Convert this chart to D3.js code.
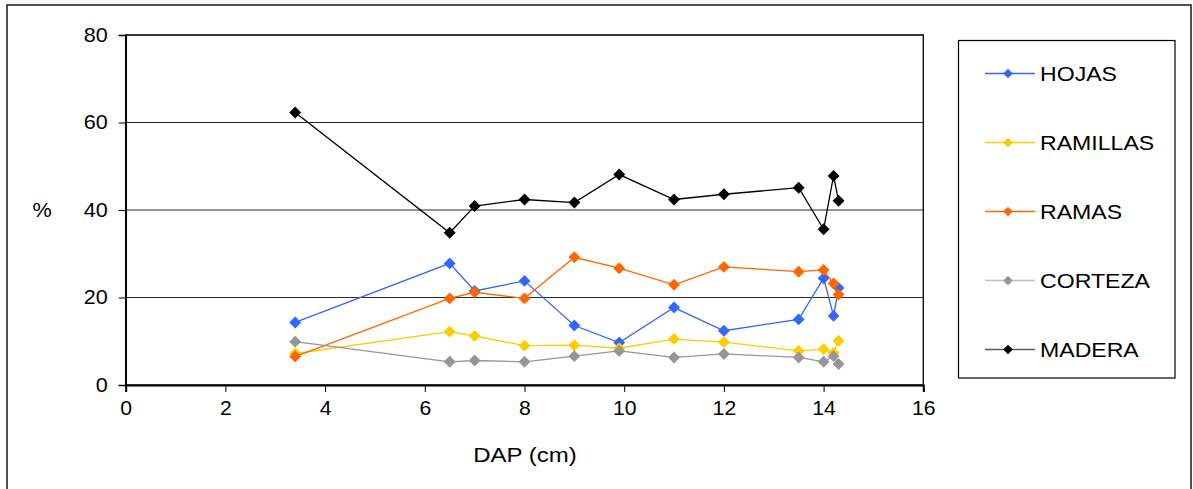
<!DOCTYPE html>
<html>
<head>
<meta charset="utf-8">
<script src="https://cdn.jsdelivr.net/npm/d3@7"></script>
<style>
  html, body { margin: 0; padding: 0; background: #fff; }
  svg { display: block; }
  text { font-family: "Liberation Sans", Arial, sans-serif; fill: #000; }
</style>
</head>
<body>
<script>
// ---- Data ----
const dap      = [3.4, 6.5, 7.0, 8.0, 9.0, 9.9, 11.0, 12.0, 13.5, 14.0, 14.2, 14.3];
const hojas    = [14.3, 27.8, 21.5, 23.8, 13.6, 9.7, 17.7, 12.4, 15.0, 24.4, 15.8, 22.2];
const ramillas = [7.2, 12.2, 11.2, 9.0, 9.1, 8.4, 10.5, 9.8, 7.8, 8.2, 7.4, 10.1];
const ramas    = [6.5, 19.8, 21.2, 19.8, 29.2, 26.7, 22.9, 27.0, 25.9, 26.3, 23.2, 20.7];
const corteza  = [9.9, 5.3, 5.6, 5.3, 6.6, 7.8, 6.3, 7.1, 6.3, 5.3, 6.6, 4.8];
const madera   = [62.3, 34.8, 40.9, 42.4, 41.7, 48.1, 42.4, 43.6, 45.1, 35.6, 47.8, 42.1];
const seriesNames = ["HOJAS", "RAMILLAS", "RAMAS", "CORTEZA", "MADERA"];
const xTicks = [0, 2, 4, 6, 8, 10, 12, 14, 16];
const yTicks = [0, 20, 40, 60, 80];

const seriesValues = [hojas, ramillas, ramas, corteza, madera];
const markerColors = ["#3366FF", "#FFCC00", "#FF6600", "#969696", "#000000"];
const lineColors   = ["#3366FF", "#FFCC00", "#FF6600", "#969696", "#000000"];
const legendLineColors = ["#3366FF", "#FFCC00", "#FF6600", "#C0C0C0", "#595959"];

const W = 1193, H = 489;
const svg = d3.select("body").append("svg").attr("width", W).attr("height", H);

// outer frame
svg.append("rect").attr("x", 7).attr("y", 5).attr("width", 1184).attr("height", 500)
  .attr("fill", "none").attr("stroke", "#1a1a1a").attr("stroke-width", 1.5);

const x = d3.scaleLinear().domain([0, 16]).range([125.7, 923.3]);
const y = d3.scaleLinear().domain([0, 80]).range([385, 35]);

// gridlines
svg.append("g").selectAll("line").data(yTicks.filter(d => d > 0)).join("line")
  .attr("x1", x(0)).attr("x2", x(16))
  .attr("y1", d => y(d)).attr("y2", d => y(d))
  .attr("stroke", "#2a2a2a").attr("stroke-width", 1.2);

// plot border
svg.append("rect").attr("x", x(0)).attr("y", y(80))
  .attr("width", x(16) - x(0)).attr("height", y(0) - y(80))
  .attr("fill", "none").attr("stroke", "#111").attr("stroke-width", 1.4);

// axes
const xAxis = d3.axisBottom(x).tickValues(xTicks).tickSize(7).tickPadding(9).tickFormat(d3.format("d"));
const gx = svg.append("g").attr("transform", `translate(0,${y(0)})`).call(xAxis);
gx.select(".domain").attr("stroke", "#000").attr("stroke-width", 2);
gx.selectAll(".tick line").attr("stroke", "#000");
gx.selectAll("text").style("font-size", "20px").attr("font-family", "Liberation Sans, Arial, sans-serif")
  .attr("transform", "scale(1.06,1)");

const yAxis = d3.axisLeft(y).tickValues(yTicks).tickSize(7).tickPadding(11).tickFormat(d3.format("d"));
const gy = svg.append("g").attr("transform", `translate(${x(0)},0)`).call(yAxis);
gy.select(".domain").attr("stroke", "#000").attr("stroke-width", 1.6);
gy.selectAll(".tick line").attr("stroke", "#000");
gy.selectAll("text").style("font-size", "20px").attr("font-family", "Liberation Sans, Arial, sans-serif")
  .attr("x", 0).attr("transform", "translate(-18,0) scale(1.08,1)");

// axis titles
svg.append("text").attr("transform", "translate(42,217) scale(1.08,1)").attr("text-anchor", "middle")
  .style("font-size", "20px").text("%");
svg.append("text").attr("transform", "translate(525,462) scale(1.2,1)").attr("text-anchor", "middle")
  .style("font-size", "20px").text("DAP (cm)");

// series
const diamond = d3.symbol().type(d3.symbolDiamond2).size(90);
const line = d3.line().x(d => x(d[0])).y(d => y(d[1]));

seriesValues.forEach((vals, i) => {
  const pts = dap.map((d, j) => [d, vals[j]]);
  const g = svg.append("g");
  g.append("path").datum(pts).attr("d", line)
    .attr("fill", "none").attr("stroke", lineColors[i]).attr("stroke-width", 1.3);
  g.selectAll("path.m").data(pts).join("path").attr("class", "m")
    .attr("transform", d => `translate(${x(d[0])},${y(d[1])})`)
    .attr("d", diamond).attr("fill", markerColors[i]);
});

// legend
svg.append("rect").attr("x", 958.5).attr("y", 40.5).attr("width", 216.5).attr("height", 337.5)
  .attr("fill", "#fff").attr("stroke", "#000").attr("stroke-width", 1.2);

const legendSymbol = d3.symbol().type(d3.symbolDiamond2).size(60);
seriesNames.forEach((name, i) => {
  const cy = 73.5 + i * 69;
  const g = svg.append("g");
  g.append("line").attr("x1", 985).attr("x2", 1035).attr("y1", cy).attr("y2", cy)
    .attr("stroke", legendLineColors[i]).attr("stroke-width", 1.3);
  g.append("path").attr("transform", `translate(1008,${cy})`).attr("d", legendSymbol)
    .attr("fill", markerColors[i]);
  g.append("text").attr("transform", `translate(1040,${cy + 7.5}) scale(1.1,1)`)
    .style("font-size", "21px").text(name);
});
</script>
</body>
</html>
